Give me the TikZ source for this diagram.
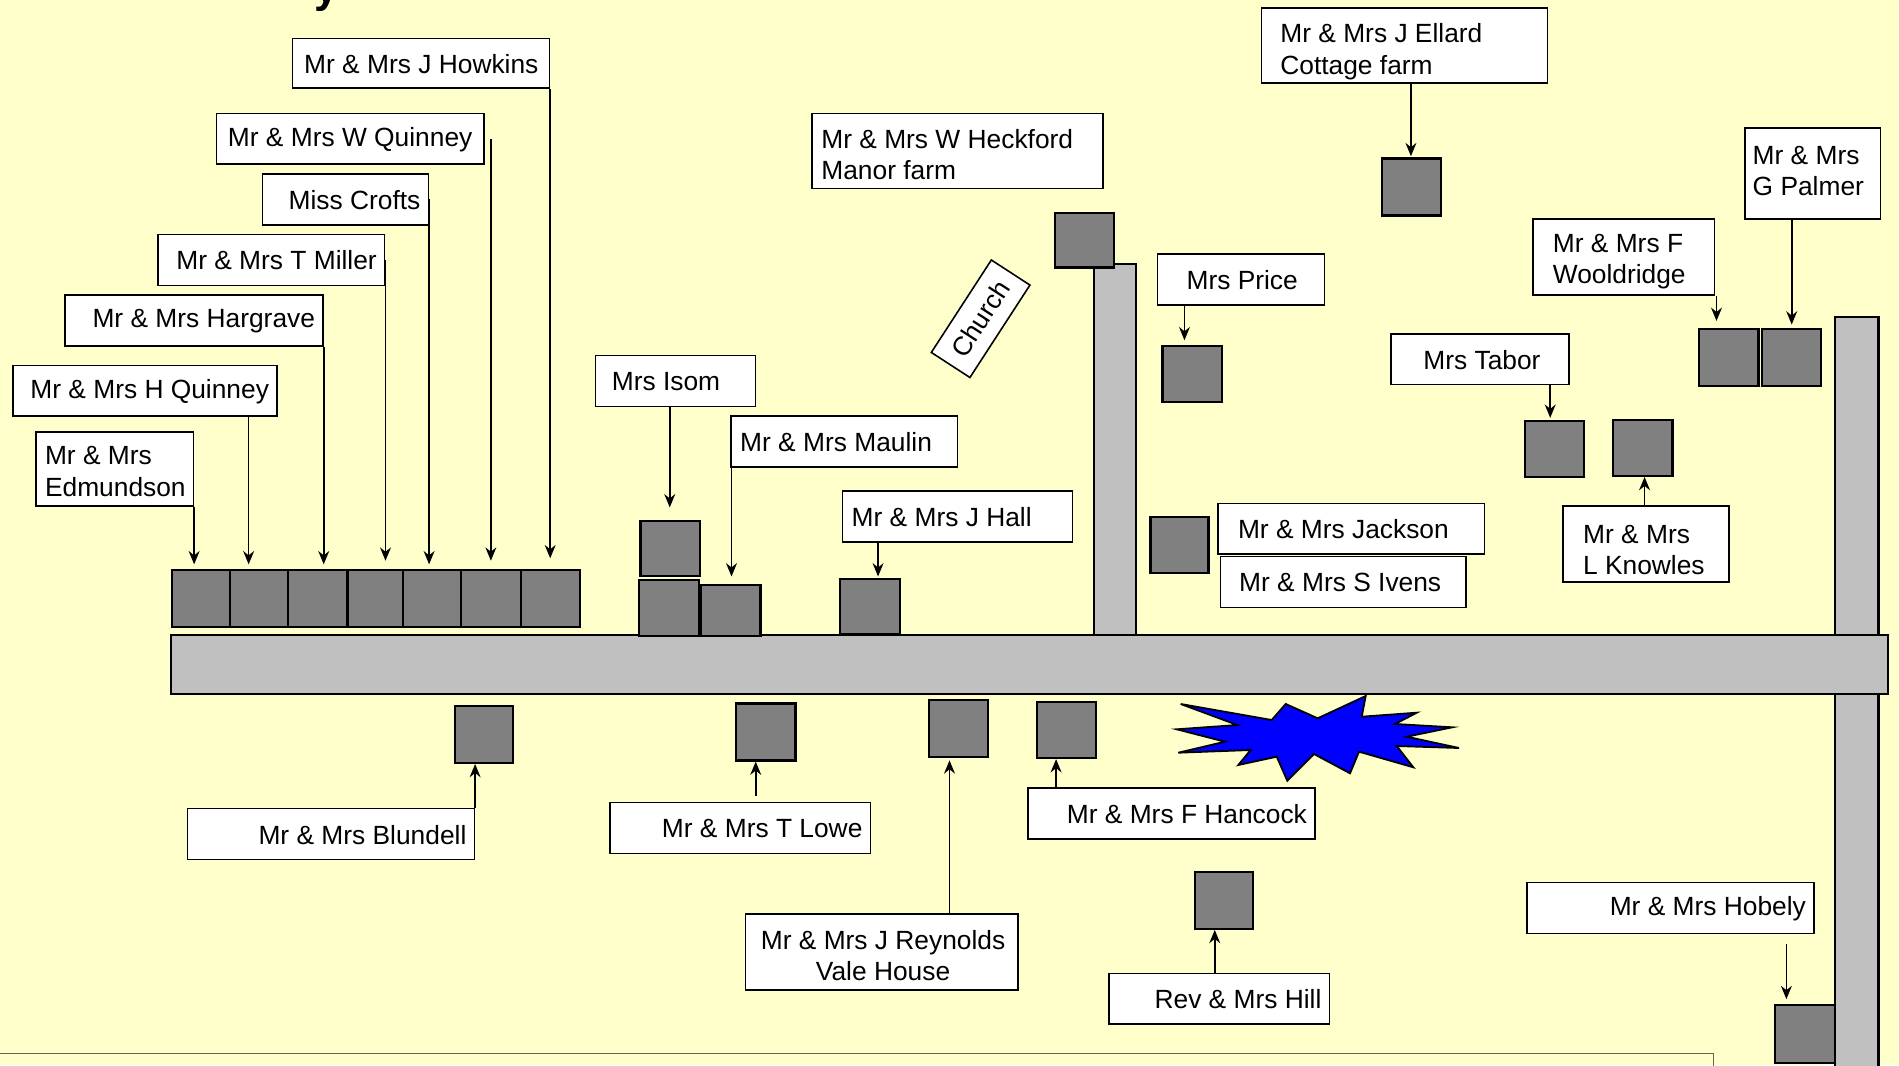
\documentclass[tikz,border=0pt]{standalone}
\usepackage{fontspec}
\setmainfont{Liberation Sans}
\usetikzlibrary{arrows.meta,calc}
\definecolor{bgc}{HTML}{FFFFCC}
\definecolor{roadc}{HTML}{C0C0C0}
\definecolor{housec}{HTML}{808080}
\definecolor{starc}{HTML}{0000FF}
\tikzset{
  lblbox/.style={draw=black, fill=white, line width=1.3pt, inner sep=0pt, anchor=north west},
  txt/.style={inner sep=0pt, font=\fontsize{21.75}{26}\selectfont},
  at-west/.style={anchor=west, align=left},
  at-east/.style={anchor=east, align=right},
  at-center/.style={anchor=center, align=center},
  house/.style={draw=black, fill=housec, line width=1.8pt, inner sep=0pt, anchor=north west},
  road/.style={draw=black, fill=roadc, line width=1.8pt},
  arr/.style={-{Stealth[length=11pt,width=9pt]}, line width=1.3pt},
}
% name, x1, y1, x2, y2, anchor, dx, dy, text
\newcommand\lbl[9]{%
  \node[lblbox, minimum width={#4-#2}, minimum height={#5-#3}] (#1) at (#2,#3) {};
  \node[txt, at-#6] (#1-t) at ($(#1.#6)+(#7,#8)$) {#9};}
% name, x1, y1, x2, y2
\newcommand\mkhouse[5]{\node[house, minimum width={#4-#2}, minimum height={#5-#3}] (#1) at (#2,#3) {};}
\begin{document}
\begin{tikzpicture}[x=1pt,y=-1pt]
\useasboundingbox (0,0) rectangle (1568,879.4);
\fill[bgc] (0,0) rectangle (1568,879.4);
\node[font=\bfseries\fontsize{36}{40}\selectfont, anchor=base, inner sep=0pt] (title) at (270,2) {y};
\draw[line width=1pt, draw=black!60!bgc] (0,870) -- (1415,870) -- (1415,885);

% roads
\draw[road] (903,218) rectangle (938,524);
\draw[road] (1515,262) rectangle (1551,900);
\draw[road] (141,524) rectangle (1559,573);

% star
\begin{scope}[scale=0.8257]
\draw[fill=starc, line width=1.5pt, line join=miter] (1180.7,704) -- (1271.7,720) -- (1285.7,704) -- (1317.7,718.3) -- (1365.7,696) -- (1361.7,716.7) -- (1416.7,712.7) -- (1395,724) -- (1452.3,727.3) -- (1406.7,736.7) -- (1459,748) -- (1396.7,746) -- (1413.3,767.3) -- (1359,751.7) -- (1350,773.3) -- (1314,754) -- (1287.3,780.7) -- (1276.7,756.7) -- (1238.3,765) -- (1250.7,750) -- (1178.3,752.7) -- (1225,741.7) -- (1176.7,729.3) -- (1237.3,725) -- cycle;
\end{scope}

% houses
\mkhouse{h1}{141}{470}{189}{517}
\mkhouse{h2}{189}{470}{237}{517}
\mkhouse{h3}{237}{470}{286}{517}
\mkhouse{h4}{286}{470}{332}{517}
\mkhouse{h5}{332}{470}{380}{517}
\mkhouse{h6}{380}{470}{429}{517}
\mkhouse{h7}{429}{470}{478}{517}
\mkhouse{hIsomA}{528}{429}{577}{475}
\mkhouse{hIsomB}{527}{478}{576}{524}
\mkhouse{hMaulin}{578}{482}{627}{524}
\mkhouse{hHall}{693}{477}{742}{523}
\mkhouse{hHeck}{870}{175}{919}{220}
\mkhouse{hPrice}{959}{285}{1008}{331}
\mkhouse{hJack}{949}{426}{997}{472}
\mkhouse{hEllard}{1140}{130}{1189}{177}
\mkhouse{hTabor}{1258}{347}{1307}{393}
\mkhouse{hKnow}{1331}{346}{1380}{392}
\mkhouse{hWool}{1402}{271}{1451}{318}
\mkhouse{hPalm}{1454}{271}{1503}{318}
\mkhouse{hBlun}{375}{582}{423}{629}
\mkhouse{hLowe}{607}{580}{656}{627}
\mkhouse{hReyn}{766}{577}{815}{624}
\mkhouse{hHanc}{855}{579}{904}{625}
\mkhouse{hHill}{986}{719}{1034}{766}
\mkhouse{hHob}{1465}{829}{1514}{877}

% labels
\lbl{howk}{241}{31}{453}{72}{west}{10}{0.5}{Mr \& Mrs J Howkins}
\lbl{wq}{178}{93}{399}{135}{west}{10}{1}{Mr \& Mrs W Quinney}
\lbl{crofts}{216}{143}{353}{185}{east}{-7}{0.5}{Miss Crofts}
\lbl{miller}{130}{193}{317}{235}{east}{-7}{0.5}{Mr \& Mrs T Miller}
\lbl{harg}{53}{243}{266}{285}{east}{-7}{0.5}{Mr \& Mrs Hargrave}
\lbl{hq}{10}{301}{228}{343}{east}{-7}{0.5}{Mr \& Mrs H Quinney}
\lbl{edm}{29}{356}{159}{417}{west}{8}{2}{Mr \& Mrs\\Edmundson}
\lbl{isom}{491}{293}{623}{335}{west}{14}{0.5}{Mrs Isom}
\lbl{maulin}{603}{343}{790}{385}{west}{8}{0.5}{Mr \& Mrs Maulin}
\lbl{hall}{695}{405}{885}{447}{west}{8}{0.5}{Mr \& Mrs J Hall}
\lbl{heck}{670}{93}{910}{155}{west}{8}{3}{Mr \& Mrs W Heckford\\Manor farm}
\lbl{price}{955}{209}{1093}{251}{center}{1}{0.5}{Mrs Price}
\lbl{jackson}{1005}{415}{1225}{457}{west}{17}{0.5}{Mr \& Mrs Jackson}
\lbl{ivens}{1007}{459}{1210}{501}{west}{16}{0.5}{Mr \& Mrs S Ivens}
\lbl{ellard}{1041}{6}{1277}{68}{west}{16}{5}{Mr \& Mrs J Ellard\\Cottage farm}
\lbl{tabor}{1148}{275}{1295}{317}{center}{1.5}{0.5}{Mrs Tabor}
\lbl{knowles}{1290}{417}{1427}{480}{west}{17}{5}{Mr \& Mrs\\L Knowles}
\lbl{woold}{1265}{180}{1415}{243}{west}{17}{4}{Mr \& Mrs F\\Wooldridge}
\lbl{palmer}{1440}{105}{1552}{180}{west}{7}{-2}{Mr \& Mrs\\G Palmer}
\lbl{blundell}{154}{667}{391}{709}{east}{-7}{0.5}{Mr \& Mrs Blundell}
\lbl{lowe}{503}{662}{718}{704}{east}{-7}{0.5}{Mr \& Mrs T Lowe}
\lbl{reyn}{615}{754}{840}{817}{center}{1}{3}{Mr \& Mrs J Reynolds\\Vale House}
\lbl{hancock}{848}{650}{1085}{692}{east}{-7}{0.5}{Mr \& Mrs F Hancock}
\lbl{hill}{915}{803}{1097}{845}{east}{-7}{0.5}{Rev \& Mrs Hill}
\lbl{hobely}{1260}{728}{1497}{770}{east}{-7}{0.5}{Mr \& Mrs Hobely}

\node[draw=black, fill=white, line width=1.3pt, rotate=57, minimum width=91pt, minimum height=38pt, inner sep=0pt, font=\fontsize{21.75}{26}\selectfont] (church) at (809.7,263.2) {Church};

% connectors
\draw[arr, shorten >=9pt] (howk.south east) -- (howk.south east |- h7.north);
\draw[arr, shorten >=7pt] ([xshift=5pt]wq.east) -- ([xshift=5pt]wq.east |- h6.north);
\draw[arr, shorten >=4pt] (crofts.east) -- (crofts.east |- h5.north);
\draw[arr, shorten >=7pt] (miller.east) -- (miller.east |- h4.north);
\draw[arr, shorten >=4pt] (harg.south east) -- (harg.south east |- h3.north);
\draw[arr, shorten >=4pt] ([xshift=-24pt]hq.south east) -- ([xshift=-24pt]hq.south east |- h2.north);
\draw[arr, shorten >=4pt] (edm.south east) -- (edm.south east |- h1.north);
\draw[arr, shorten >=10pt] ([xshift=62pt]isom.south west) -- ([xshift=62pt]isom.south west |- hIsomA.north);
\draw[arr, shorten >=6pt] ([xshift=1pt]maulin.south west) -- ([xshift=1pt]maulin.south west |- hMaulin.north);
\draw[arr, shorten >=1pt] ([xshift=30pt]hall.south west) -- ([xshift=30pt]hall.south west |- hHall.north);
\draw[arr, shorten >=4pt] ([xshift=23pt]price.south west) -- ([xshift=23pt]price.south west |- hPrice.north);
\draw[arr, shorten >=1pt] ([xshift=124pt]ellard.south west) -- ([xshift=124pt]ellard.south west |- hEllard.north);
\draw[arr, shorten >=2pt] ([xshift=132pt]tabor.south west) -- ([xshift=132pt]tabor.south west |- hTabor.north);
\draw[arr] ([xshift=1.5pt]hKnow.south |- knowles.north) -- ([xshift=1.5pt]hKnow.south);
\draw[arr, shorten >=6pt] ([xshift=1pt]woold.south east) -- ([xshift=1pt]woold.south east |- hWool.north);
\draw[arr, shorten >=3pt] (hPalm.north |- palmer.south) -- (hPalm.north);
\draw[arr] (blundell.north east) -- (blundell.north east |- hBlun.south);
\draw[arr] ([xshift=121pt,yshift=5pt]lowe.north west) -- ([xshift=121pt]lowe.north west |- hLowe.south);
\draw[arr, shorten >=2pt] ([xshift=169pt]reyn.north west) -- ([xshift=169pt]reyn.north west |- hReyn.south);
\draw[arr] ([xshift=24pt]hancock.north west) -- ([xshift=24pt]hancock.north west |- hHanc.south);
\draw[arr] ([xshift=88pt]hill.north west) -- ([xshift=88pt]hill.north west |- hHill.south);
\draw[arr, shorten >=4pt] ([xshift=215pt,yshift=-8pt]hobely.south west) -- ([xshift=215pt]hobely.south west |- hHob.north);
\end{tikzpicture}
\end{document}
